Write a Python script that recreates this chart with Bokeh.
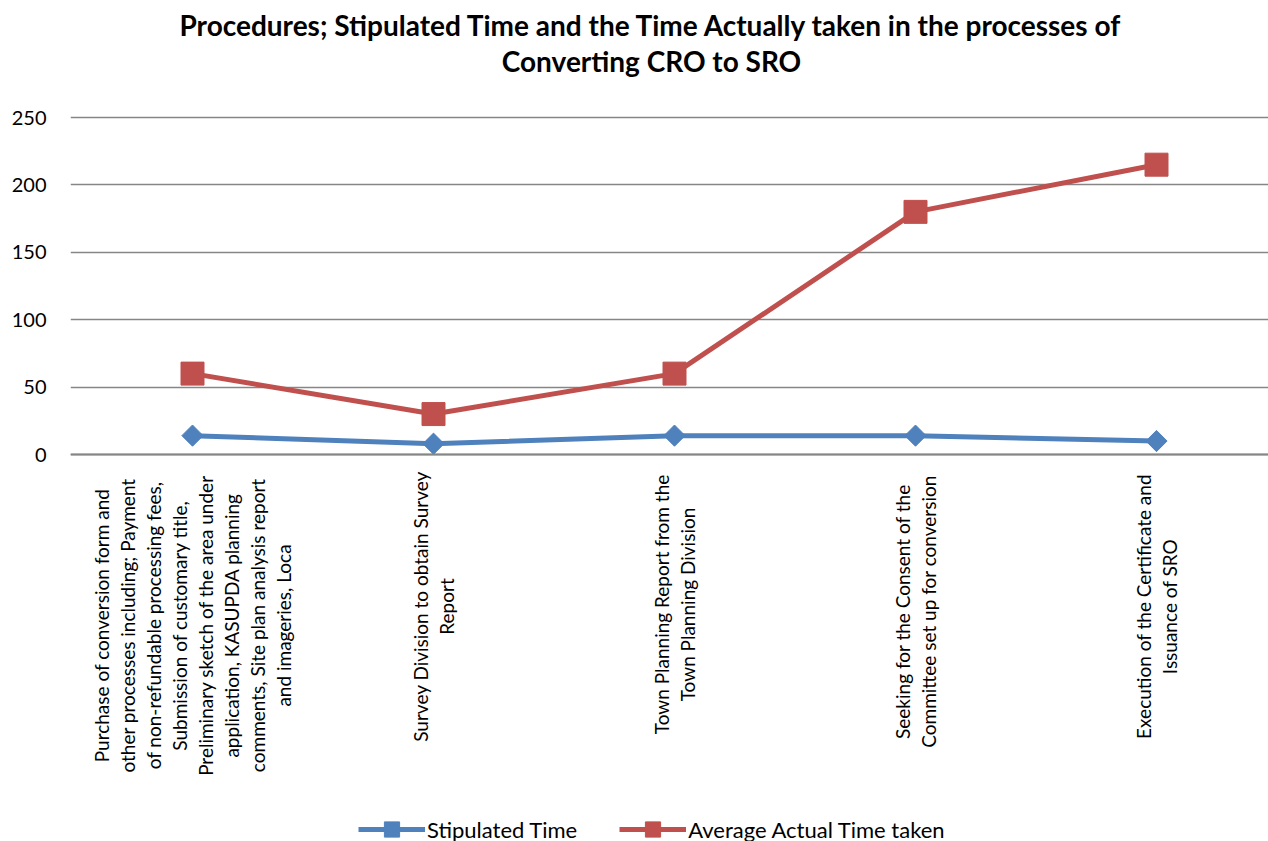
import math
from bokeh.plotting import figure
from bokeh.models import Range1d, Label, Legend, LegendItem, ColumnDataSource, FixedTicker, Span
from bokeh.embed import file_html
from bokeh.resources import INLINE

# ---------------- data ----------------
categories = [
    "Purchase of conversion form and\nother processes including; Payment\nof non-refundable processing fees,\nSubmission of customary title,\nPreliminary sketch of the area under\napplication, KASUPDA planning\ncomments, Site plan analysis report\nand imageries, Loca",
    "Survey Division to obtain Survey\nReport",
    "Town Planning Report from the\nTown Planning Division",
    "Seeking for the Consent of the\nCommittee set up for conversion",
    "Execution of the Certificate and\nIssuance of SRO",
]
stipulated_time = [14, 8, 14, 14, 10]
average_actual_time = [60, 30, 60, 180, 215]
y_ticks = [0, 50, 100, 150, 200, 250]
title_lines = [
    "Procedures; Stipulated Time and the Time Actually taken in the processes of",
    "Converting CRO to SRO",
]
series_names = ["Stipulated Time", "Average Actual Time taken"]

# ---------------- layout / style ----------------
FONT = "Lato"
BLUE = "#4F81BD"
RED = "#C0504D"
GRID = "#868686"
label_centers_px = [171, 152, 150, 157, 152]   # distance of label block centre below the axis
line_gap = 26
PX_PER_UNIT = (454 - 117) / 250.0

xs = list(range(len(categories)))
src = ColumnDataSource(dict(x=xs, stip=stipulated_time, act=average_actual_time))

p = figure(width=1268, height=841, output_backend="svg", toolbar_location=None,
           x_axis_location=None,
           x_range=Range1d(-122 / 241, 4 + (1268 - 1156) / 241),
           y_range=Range1d(-(841 - 454) / PX_PER_UNIT, 250 + 117 / PX_PER_UNIT),
           min_border_left=70, min_border_right=0, min_border_top=0, min_border_bottom=0)
p.outline_line_color = None
p.background_fill_color = "white"
p.border_fill_color = "white"
p.xgrid.grid_line_color = None

p.yaxis.ticker = FixedTicker(ticks=y_ticks)
p.yaxis.axis_line_color = None
p.yaxis.major_tick_line_color = None
p.yaxis.minor_tick_line_color = None
p.yaxis.major_label_standoff = 18
p.yaxis.major_label_text_font = FONT
p.yaxis.major_label_text_font_size = "20px"
p.yaxis.major_label_text_color = "black"
p.ygrid.grid_line_color = GRID
p.ygrid.grid_line_width = 1.5
p.add_layout(Span(location=0, dimension="width", line_color=GRID, line_width=2))

# series
l1 = p.line("x", "stip", source=src, line_color=BLUE, line_width=5)
m1 = p.scatter("x", "stip", source=src, marker="square", angle=math.pi / 4, size=15,
               fill_color=BLUE, line_color=BLUE)
l2 = p.line("x", "act", source=src, line_color=RED, line_width=5)
m2 = p.scatter("x", "act", source=src, marker="square", size=23,
               fill_color=RED, line_color=RED)

legend = Legend(items=[LegendItem(label=series_names[0], renderers=[l1, m1]),
                       LegendItem(label=series_names[1], renderers=[l2, m2])],
                location=(288, -7), orientation="horizontal",
                glyph_width=67, glyph_height=38, label_standoff=2, spacing=42,
                padding=0, margin=0, border_line_color=None, background_fill_alpha=0,
                label_text_font=FONT, label_text_font_size="22px", label_text_color="black")
p.add_layout(legend, "center")

# category labels (rotated, centred lines)
for i, cat in enumerate(categories):
    lines = cat.split("\n")
    n = len(lines)
    for j, ln in enumerate(lines):
        p.add_layout(Label(x=i, y=0, text=ln, angle=math.pi / 2,
                           x_offset=(j - (n - 1) / 2) * line_gap,
                           y_offset=-label_centers_px[i],
                           text_align="center", text_baseline="middle",
                           text_font=FONT, text_font_size="19px", text_color="black"))

# title
for k, t in enumerate(title_lines):
    p.add_layout(Label(x=0, y=250, text=t, x_offset=459, y_offset=[93, 57][k],
                       text_align="center", text_baseline="middle",
                       text_font=FONT, text_font_size="28px", text_font_style="bold",
                       text_color="black"))

open("out.html", "w").write(file_html(p, INLINE))
